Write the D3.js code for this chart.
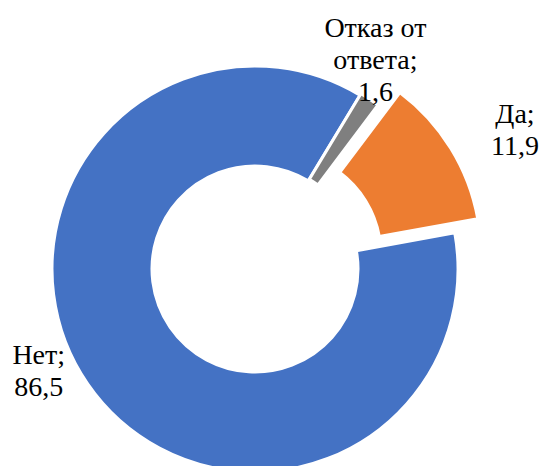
<!DOCTYPE html>
<html>
<head>
<meta charset="utf-8">
<script src="https://cdn.jsdelivr.net/npm/d3@7"></script>
<style>
  html, body { margin: 0; padding: 0; background: #fff; }
</style>
</head>
<body>
<div id="vis"></div>
<script>
// data
var categories = ["Да", "Нет", "Отказ от ответа"];
var values = [11.9, 86.5, 1.6];
var colors = ["#ED7D31", "#4472C4", "#7F7F7F"];

var width = 544, height = 466;
var cx = 255, cy = 269;
var outerR = 203, innerR = 103;

// how far each slice is pulled out, and label nudges (px)
var explode = [27, 0, 2];
var labelNudge = [[54, -12], [-17, -36], [-15, -9]];
var lineH = 32, capH = 19;

var fmt = function(v) { return d3.format(".1f")(v).replace(".", ","); };

var svg = d3.select("#vis")
    .append("svg")
    .attr("width", width)
    .attr("height", height);

var g = svg.append("g")
    .attr("transform", "translate(" + cx + "," + cy + ")");

var pie = d3.pie()
    .sort(null)
    .value(function(d) { return d; })
    .startAngle(36.9 * Math.PI / 180)
    .endAngle(36.9 * Math.PI / 180 + 2 * Math.PI);

var arc = d3.arc()
    .innerRadius(innerR)
    .outerRadius(outerR);

var arcs = pie(values);

function mid(d) { return (d.startAngle + d.endAngle) / 2; }

g.selectAll("path.slice")
    .data(arcs)
    .enter()
    .append("path")
    .attr("class", "slice")
    .attr("d", arc)
    .attr("fill", function(d, i) { return colors[i]; })
    .attr("stroke", "#fff")
    .attr("stroke-width", 3)
    .attr("transform", function(d, i) {
      var a = mid(d);
      return "translate(" + (explode[i] * Math.sin(a)) + "," + (-explode[i] * Math.cos(a)) + ")";
    });

// wrap "category;" at word boundaries, then value on last line
function labelLines(i) {
  var words = (categories[i] + ";").split(" ");
  var lines = [], cur = "";
  words.forEach(function(w) {
    if (cur && (cur + " " + w).length > 9) { lines.push(cur); cur = w; }
    else cur = cur ? cur + " " + w : w;
  });
  lines.push(cur);
  lines.push(fmt(values[i]));
  return lines;
}

var labelR = outerR + 39;

var labels = g.selectAll("text.label")
    .data(arcs)
    .enter()
    .append("text")
    .attr("class", "label")
    .attr("text-anchor", "middle")
    .attr("font-family", "'Liberation Serif', 'Times New Roman', serif")
    .attr("font-size", 28)
    .attr("fill", "#000");

labels.each(function(d, i) {
  var a = mid(d);
  var x = labelR * Math.sin(a) + labelNudge[i][0];
  var yMid = -labelR * Math.cos(a) + labelNudge[i][1];
  var lines = labelLines(i);
  var y0 = yMid - ((lines.length - 1) * lineH - capH) / 2;
  d3.select(this).selectAll("tspan")
      .data(lines)
      .enter()
      .append("tspan")
      .attr("x", x)
      .attr("y", function(l, k) { return y0 + k * lineH; })
      .text(function(l) { return l; });
});
</script>
</body>
</html>
